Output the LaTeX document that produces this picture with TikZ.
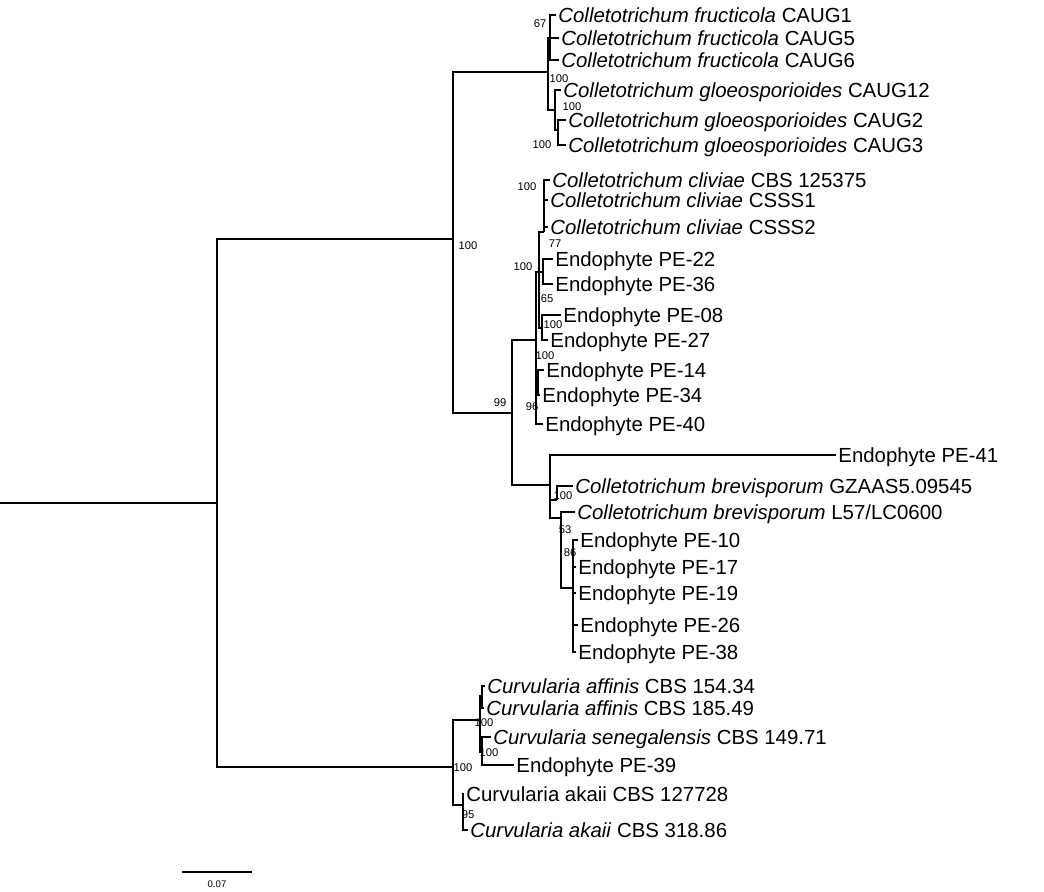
\documentclass[tikz,border=0pt]{standalone}
\usepackage{fontspec}
\setmainfont{Liberation Sans}
\usetikzlibrary{positioning}

\begin{document}
\begin{tikzpicture}[
    x=0.5pt, y=-0.5pt,
    branch/.style = {draw, line width=0.6pt},
    leaf/.style = {anchor=west, inner sep=1pt, text height=7.3pt, text depth=0pt, font=\fontsize{10.2}{12}\selectfont},
    boot/.style = {inner sep=0pt, font=\fontsize{5.6}{6}\selectfont},
    scalelab/.style = {inner sep=0pt, font=\fontsize{4.8}{5}\selectfont}
]
    \useasboundingbox (0,0) rectangle (1044,891);

    % Tips - Colletotrichum fructicola / gloeosporioides
    \node (t1) [leaf] at (556,15) {\textit{Colletotrichum fructicola} CAUG1};
    \node (t2) [leaf] at (559,38) {\textit{Colletotrichum fructicola} CAUG5};
    \node (t3) [leaf] at (559,60) {\textit{Colletotrichum fructicola} CAUG6};
    \node (t4) [leaf] at (561,90) {\textit{Colletotrichum gloeosporioides} CAUG12};
    \node (t5) [leaf] at (566,120) {\textit{Colletotrichum gloeosporioides} CAUG2};
    \node (t6) [leaf] at (566,145) {\textit{Colletotrichum gloeosporioides} CAUG3};

    % Tips - cliviae and endophytes
    \node (t7) [leaf] at (550,180) {\textit{Colletotrichum cliviae} CBS 125375};
    \node (t8) [leaf] at (548,200) {\textit{Colletotrichum cliviae} CSSS1};
    \node (t9) [leaf] at (548,227) {\textit{Colletotrichum cliviae} CSSS2};
    \node (t10) [leaf] at (553,259) {Endophyte PE-22};
    \node (t11) [leaf] at (553,284) {Endophyte PE-36};
    \node (t12) [leaf] at (561,315) {Endophyte PE-08};
    \node (t13) [leaf] at (548,340) {Endophyte PE-27};
    \node (t14) [leaf] at (544,370) {Endophyte PE-14};
    \node (t15) [leaf] at (540,395) {Endophyte PE-34};
    \node (t16) [leaf] at (543,424) {Endophyte PE-40};

    % Tips - brevisporum clade
    \node (t17) [leaf] at (836,455) {Endophyte PE-41};
    \node (t18) [leaf] at (573,486) {\textit{Colletotrichum brevisporum} GZAAS5.09545};
    \node (t19) [leaf] at (575,512) {\textit{Colletotrichum brevisporum} L57/LC0600};
    \node (t20) [leaf] at (578,540) {Endophyte PE-10};
    \node (t21) [leaf] at (576,567) {Endophyte PE-17};
    \node (t22) [leaf] at (576,593) {Endophyte PE-19};
    \node (t23) [leaf] at (578,625) {Endophyte PE-26};
    \node (t24) [leaf] at (576,652) {Endophyte PE-38};

    % Tips - Curvularia
    \node (t25) [leaf] at (485,686) {\textit{Curvularia affinis} CBS 154.34};
    \node (t26) [leaf] at (484,708) {\textit{Curvularia affinis} CBS 185.49};
    \node (t27) [leaf] at (491,737) {\textit{Curvularia senegalensis} CBS 149.71};
    \node (t28) [leaf] at (514,765) {Endophyte PE-39};
    \node (t29) [leaf] at (464,794) {Curvularia akaii CBS 127728};
    \node (t30) [leaf] at (468,830) {\textit{Curvularia akaii} CBS 318.86};

    % Internal nodes
    \coordinate (r0) at (0,503);
    \coordinate (n0) at (217,503);
    \coordinate (nA) at (453,239);
    \coordinate (nFG) at (548,72);
    \coordinate (nFr) at (550,38);
    \coordinate (nGl) at (555,110);
    \coordinate (nG2) at (558,130);
    \coordinate (nB) at (512,413);
    \coordinate (nD) at (536,340);
    \coordinate (nE) at (539,272);
    \coordinate (nCl) at (544,232);
    \coordinate (n22) at (543,272);
    \coordinate (n08) at (542,328);
    \coordinate (nF) at (538,383);
    \coordinate (nBr) at (550,485);
    \coordinate (nGZ) at (557,500);
    \coordinate (nL) at (561,518);
    \coordinate (nP) at (573,588);
    \coordinate (nCu) at (453,767);
    \coordinate (nAf) at (480,720);
    \coordinate (nAA) at (482,696);
    \coordinate (nSP) at (482,752);
    \coordinate (nAk) at (463,805);

    % Branches
    \path [branch] (r0) -- (n0);
    \foreach \c in {nA,nCu} \path [branch] (n0) |- (\c);
    \foreach \c in {nFG,nB} \path [branch] (nA) |- (\c);
    \foreach \c in {nFr,nGl} \path [branch] (nFG) |- (\c);
    \foreach \c in {t1,t2,t3} \path [branch] (nFr) |- (\c.west);
    \path [branch] (nGl) |- (t4.west);
    \path [branch] (nGl) |- (nG2);
    \foreach \c in {t5,t6} \path [branch] (nG2) |- (\c.west);

    \foreach \c in {nD,nBr} \path [branch] (nB) |- (\c);
    \foreach \c in {nE,nF} \path [branch] (nD) |- (\c);
    \path [branch] (nD) |- (t16.west);
    \foreach \c in {nCl,n22,n08} \path [branch] (nE) |- (\c);
    \foreach \c in {t7,t8,t9} \path [branch] (nCl) |- (\c.west);
    \foreach \c in {t10,t11} \path [branch] (n22) |- (\c.west);
    \foreach \c in {t12,t13} \path [branch] (n08) |- (\c.west);
    \foreach \c in {t14,t15} \path [branch] (nF) |- (\c.west);

    \path [branch] (nBr) |- (t17.west);
    \foreach \c in {nGZ,nL} \path [branch] (nBr) |- (\c);
    \path [branch] (nGZ) |- (t18.west);
    \path [branch] (nL) |- (t19.west);
    \path [branch] (nL) |- (nP);
    \foreach \c in {t20,t21,t22,t23,t24} \path [branch] (nP) |- (\c.west);

    \foreach \c in {nAf,nAk} \path [branch] (nCu) |- (\c);
    \foreach \c in {nAA,nSP} \path [branch] (nAf) |- (\c);
    \foreach \c in {t25,t26} \path [branch] (nAA) |- (\c.west);
    \foreach \c in {t27,t28} \path [branch] (nSP) |- (\c.west);
    \foreach \c in {t29,t30} \path [branch] (nAk) |- (\c.west);

    % Bootstrap values
    \node (b1) [boot] at (540,24) {67};
    \node (b2) [boot] at (559,79) {100};
    \node (b3) [boot] at (572,107) {100};
    \node (b4) [boot] at (542,145) {100};
    \node (b5) [boot] at (468,246) {100};
    \node (b6) [boot] at (527,187) {100};
    \node (b7) [boot] at (555,244) {77};
    \node (b8) [boot] at (523,267) {100};
    \node (b9) [boot] at (547,299) {65};
    \node (b10) [boot] at (553,325) {100};
    \node (b11) [boot] at (545,356) {100};
    \node (b12) [boot] at (532,407) {96};
    \node (b13) [boot] at (500,403) {99};
    \node (b14) [boot] at (563,496) {100};
    \node (b15) [boot] at (565,530) {53};
    \node (b16) [boot] at (570,553) {86};
    \node (b17) [boot] at (484,723) {100};
    \node (b18) [boot] at (489,753) {100};
    \node (b19) [boot] at (463,768) {100};
    \node (b20) [boot] at (468,815) {95};

    % Scale bar
    \coordinate (sbL) at (182,872);
    \coordinate (sbR) at (252,872);
    \path [branch] (sbL) -- (sbR);
    \node (sbLab) [scalelab] at (217,884) {0.07};

\end{tikzpicture}
\end{document}
